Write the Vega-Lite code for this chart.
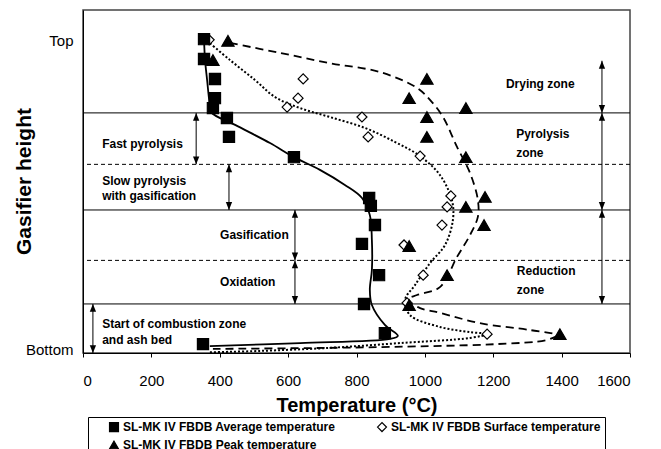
{
  "$schema": "https://vega.github.io/schema/vega-lite/v6.json",
  "autosize": {"type": "none"},
  "width": 547,
  "height": 343,
  "padding": {"left": 83, "top": 10, "right": 31, "bottom": 96},
  "background": "white",
  "config": {
    "font": "Liberation Sans",
    "view": {"stroke": "#444", "strokeWidth": 1.5}
  },
  "datasets": {
    "points": [
      {"series": "SL-MK IV FBDB Surface temperature", "temp": 369, "height": 91.3},
      {"series": "SL-MK IV FBDB Surface temperature", "temp": 644, "height": 79.9},
      {"series": "SL-MK IV FBDB Surface temperature", "temp": 629, "height": 74.3},
      {"series": "SL-MK IV FBDB Surface temperature", "temp": 597, "height": 71.7},
      {"series": "SL-MK IV FBDB Surface temperature", "temp": 816, "height": 68.8},
      {"series": "SL-MK IV FBDB Surface temperature", "temp": 834, "height": 63.0},
      {"series": "SL-MK IV FBDB Surface temperature", "temp": 986, "height": 57.4},
      {"series": "SL-MK IV FBDB Surface temperature", "temp": 1076, "height": 45.8},
      {"series": "SL-MK IV FBDB Surface temperature", "temp": 1065, "height": 42.6},
      {"series": "SL-MK IV FBDB Surface temperature", "temp": 1050, "height": 37.3},
      {"series": "SL-MK IV FBDB Surface temperature", "temp": 939, "height": 31.5},
      {"series": "SL-MK IV FBDB Surface temperature", "temp": 995, "height": 22.7},
      {"series": "SL-MK IV FBDB Surface temperature", "temp": 948, "height": 14.6},
      {"series": "SL-MK IV FBDB Surface temperature", "temp": 1182, "height": 5.5},
      {"series": "SL-MK IV FBDB Peak temperature", "temp": 424, "height": 91.0},
      {"series": "SL-MK IV FBDB Peak temperature", "temp": 380, "height": 85.4},
      {"series": "SL-MK IV FBDB Peak temperature", "temp": 1006, "height": 79.9},
      {"series": "SL-MK IV FBDB Peak temperature", "temp": 954, "height": 74.3},
      {"series": "SL-MK IV FBDB Peak temperature", "temp": 1120, "height": 71.4},
      {"series": "SL-MK IV FBDB Peak temperature", "temp": 1006, "height": 68.8},
      {"series": "SL-MK IV FBDB Peak temperature", "temp": 1006, "height": 63.0},
      {"series": "SL-MK IV FBDB Peak temperature", "temp": 1120, "height": 57.1},
      {"series": "SL-MK IV FBDB Peak temperature", "temp": 1176, "height": 45.5},
      {"series": "SL-MK IV FBDB Peak temperature", "temp": 1120, "height": 42.6},
      {"series": "SL-MK IV FBDB Peak temperature", "temp": 1173, "height": 37.3},
      {"series": "SL-MK IV FBDB Peak temperature", "temp": 954, "height": 31.2},
      {"series": "SL-MK IV FBDB Peak temperature", "temp": 1065, "height": 22.7},
      {"series": "SL-MK IV FBDB Peak temperature", "temp": 954, "height": 14.0},
      {"series": "SL-MK IV FBDB Peak temperature", "temp": 1395, "height": 5.5},
      {"series": "SL-MK IV FBDB Average temperature", "temp": 354, "height": 91.5},
      {"series": "SL-MK IV FBDB Average temperature", "temp": 354, "height": 85.7},
      {"series": "SL-MK IV FBDB Average temperature", "temp": 386, "height": 79.9},
      {"series": "SL-MK IV FBDB Average temperature", "temp": 386, "height": 74.3},
      {"series": "SL-MK IV FBDB Average temperature", "temp": 380, "height": 71.4},
      {"series": "SL-MK IV FBDB Average temperature", "temp": 421, "height": 68.5},
      {"series": "SL-MK IV FBDB Average temperature", "temp": 427, "height": 63.0},
      {"series": "SL-MK IV FBDB Average temperature", "temp": 617, "height": 57.1},
      {"series": "SL-MK IV FBDB Average temperature", "temp": 837, "height": 45.2},
      {"series": "SL-MK IV FBDB Average temperature", "temp": 842, "height": 42.9},
      {"series": "SL-MK IV FBDB Average temperature", "temp": 854, "height": 37.3},
      {"series": "SL-MK IV FBDB Average temperature", "temp": 816, "height": 31.8},
      {"series": "SL-MK IV FBDB Average temperature", "temp": 866, "height": 22.7},
      {"series": "SL-MK IV FBDB Average temperature", "temp": 822, "height": 14.3},
      {"series": "SL-MK IV FBDB Average temperature", "temp": 883, "height": 5.8},
      {"series": "SL-MK IV FBDB Average temperature", "temp": 351, "height": 2.6}
    ],
    "avgCurve": [
      {"i": 1, "temp": 354, "height": 91.3},
      {"i": 2, "temp": 357, "height": 85.4},
      {"i": 3, "temp": 363, "height": 79.6},
      {"i": 4, "temp": 369, "height": 73.8},
      {"i": 5, "temp": 374, "height": 70.3},
      {"i": 6, "temp": 445, "height": 66.5},
      {"i": 7, "temp": 547, "height": 61.2},
      {"i": 8, "temp": 617, "height": 57.1},
      {"i": 9, "temp": 693, "height": 53.4},
      {"i": 10, "temp": 766, "height": 49.0},
      {"i": 11, "temp": 816, "height": 45.2},
      {"i": 12, "temp": 839, "height": 40.2},
      {"i": 13, "temp": 845, "height": 32.9},
      {"i": 14, "temp": 845, "height": 24.2},
      {"i": 15, "temp": 839, "height": 18.4},
      {"i": 16, "temp": 845, "height": 14.0},
      {"i": 17, "temp": 883, "height": 8.2},
      {"i": 18, "temp": 921, "height": 5.0},
      {"i": 19, "temp": 898, "height": 4.1},
      {"i": 20, "temp": 635, "height": 2.9},
      {"i": 21, "temp": 371, "height": 2.0}
    ],
    "surfCurve": [
      {"i": 1, "temp": 363, "height": 91.0},
      {"i": 2, "temp": 430, "height": 85.4},
      {"i": 3, "temp": 503, "height": 79.6},
      {"i": 4, "temp": 562, "height": 74.6},
      {"i": 5, "temp": 635, "height": 71.4},
      {"i": 6, "temp": 722, "height": 68.8},
      {"i": 7, "temp": 825, "height": 65.6},
      {"i": 8, "temp": 913, "height": 61.5},
      {"i": 9, "temp": 986, "height": 57.4},
      {"i": 10, "temp": 1044, "height": 51.9},
      {"i": 11, "temp": 1079, "height": 44.6},
      {"i": 12, "temp": 1082, "height": 38.8},
      {"i": 13, "temp": 1059, "height": 31.5},
      {"i": 14, "temp": 1015, "height": 26.2},
      {"i": 15, "temp": 971, "height": 19.8},
      {"i": 16, "temp": 942, "height": 15.5},
      {"i": 17, "temp": 956, "height": 11.1},
      {"i": 18, "temp": 1044, "height": 7.6},
      {"i": 19, "temp": 1132, "height": 6.1},
      {"i": 20, "temp": 1182, "height": 5.5},
      {"i": 21, "temp": 1132, "height": 4.4},
      {"i": 22, "temp": 927, "height": 2.9},
      {"i": 23, "temp": 722, "height": 1.5},
      {"i": 24, "temp": 518, "height": 0.6},
      {"i": 25, "temp": 371, "height": 0.2}
    ],
    "peakCurve": [
      {"i": 1, "temp": 430, "height": 90.4},
      {"i": 2, "temp": 576, "height": 87.5},
      {"i": 3, "temp": 722, "height": 84.5},
      {"i": 4, "temp": 869, "height": 81.9},
      {"i": 5, "temp": 977, "height": 77.3},
      {"i": 6, "temp": 1015, "height": 73.8},
      {"i": 7, "temp": 1053, "height": 68.8},
      {"i": 8, "temp": 1094, "height": 60.1},
      {"i": 9, "temp": 1132, "height": 52.5},
      {"i": 10, "temp": 1155, "height": 44.6},
      {"i": 11, "temp": 1155, "height": 39.7},
      {"i": 12, "temp": 1132, "height": 34.4},
      {"i": 13, "temp": 1094, "height": 28.0},
      {"i": 14, "temp": 1044, "height": 19.2},
      {"i": 15, "temp": 977, "height": 16.9},
      {"i": 16, "temp": 948, "height": 15.5},
      {"i": 17, "temp": 986, "height": 13.1},
      {"i": 18, "temp": 1044, "height": 11.7},
      {"i": 19, "temp": 1161, "height": 8.7},
      {"i": 20, "temp": 1307, "height": 6.7},
      {"i": 21, "temp": 1386, "height": 5.2},
      {"i": 22, "temp": 1357, "height": 3.8},
      {"i": 23, "temp": 1211, "height": 2.6},
      {"i": 24, "temp": 1015, "height": 2.0},
      {"i": 25, "temp": 722, "height": 1.5},
      {"i": 26, "temp": 380, "height": 1.2}
    ],
    "solidLines": [
      {"height": 70},
      {"height": 41.7},
      {"height": 14.3}
    ],
    "dashedLines": [
      {"height": 55},
      {"height": 27}
    ],
    "arrows": [
      {"temp": 1518, "height": 85.2, "height2": 70},
      {"temp": 1518, "height": 70, "height2": 41.7},
      {"temp": 1518, "height": 41.7, "height2": 14.3},
      {"temp": 331, "height": 70, "height2": 55},
      {"temp": 427, "height": 55, "height2": 41.7},
      {"temp": 620, "height": 41.7, "height2": 27},
      {"temp": 620, "height": 27, "height2": 14.3},
      {"temp": 29, "height": 14.3, "height2": 0}
    ],
    "labels": [
      {"temp": 1237, "height": 78.4, "label": "Drying zone"},
      {"temp": 1267, "height": 63.8, "label": "Pyrolysis"},
      {"temp": 1267, "height": 58.3, "label": "zone"},
      {"temp": 1269, "height": 23.9, "label": "Reduction"},
      {"temp": 1269, "height": 18.4, "label": "zone"},
      {"temp": 56, "height": 60.9, "label": "Fast pyrolysis"},
      {"temp": 56, "height": 50.1, "label": "Slow pyrolysis"},
      {"temp": 56, "height": 45.8, "label": "with gasification"},
      {"temp": 401, "height": 34.4, "label": "Gasification"},
      {"temp": 401, "height": 20.7, "label": "Oxidation"},
      {"temp": 56, "height": 8.5, "label": "Start of combustion zone"},
      {"temp": 56, "height": 3.8, "label": "and ash bed"}
    ]
  },
  "layer": [
    {
      "data": {"name": "solidLines"},
      "mark": {"type": "rule", "color": "black", "strokeWidth": 1},
      "encoding": {"y": {"field": "height", "type": "quantitative", "title": "Gasifier height"}}
    },
    {
      "data": {"name": "dashedLines"},
      "mark": {"type": "rule", "color": "black", "strokeWidth": 1, "strokeDash": [4, 3]},
      "encoding": {"y": {"field": "height", "type": "quantitative", "title": "Gasifier height"}}
    },
    {
      "data": {"name": "peakCurve"},
      "mark": {"type": "line", "color": "black", "strokeWidth": 1.8, "strokeDash": [8, 5], "interpolate": "catmull-rom"},
      "encoding": {
        "x": {"field": "temp", "type": "quantitative", "title": "Temperature (°C)"},
        "y": {"field": "height", "type": "quantitative", "title": "Gasifier height"},
        "order": {"field": "i", "type": "quantitative"}
      }
    },
    {
      "data": {"name": "surfCurve"},
      "mark": {"type": "line", "color": "black", "strokeWidth": 2, "strokeDash": [2, 2], "interpolate": "catmull-rom"},
      "encoding": {
        "x": {"field": "temp", "type": "quantitative", "title": "Temperature (°C)"},
        "y": {"field": "height", "type": "quantitative", "title": "Gasifier height"},
        "order": {"field": "i", "type": "quantitative"}
      }
    },
    {
      "data": {"name": "avgCurve"},
      "mark": {"type": "line", "color": "black", "strokeWidth": 1.8, "interpolate": "catmull-rom"},
      "encoding": {
        "x": {"field": "temp", "type": "quantitative", "title": "Temperature (°C)"},
        "y": {"field": "height", "type": "quantitative", "title": "Gasifier height"},
        "order": {"field": "i", "type": "quantitative"}
      }
    },
    {
      "data": {"name": "arrows"},
      "mark": {"type": "rule", "color": "black", "strokeWidth": 1},
      "encoding": {
        "x": {"field": "temp", "type": "quantitative", "title": "Temperature (°C)"},
        "y": {"field": "height", "type": "quantitative", "title": "Gasifier height"},
        "y2": {"field": "height2"}
      }
    },
    {
      "data": {"name": "arrows"},
      "mark": {"type": "point", "shape": "M0,0L-0.6,1.5L0.6,1.5Z", "filled": true, "color": "black", "size": 110, "opacity": 1},
      "encoding": {
        "x": {"field": "temp", "type": "quantitative", "title": "Temperature (°C)"},
        "y": {"field": "height", "type": "quantitative", "title": "Gasifier height"}
      }
    },
    {
      "data": {"name": "arrows"},
      "mark": {"type": "point", "shape": "M0,0L-0.6,-1.5L0.6,-1.5Z", "filled": true, "color": "black", "size": 110, "opacity": 1},
      "encoding": {
        "x": {"field": "temp", "type": "quantitative", "title": "Temperature (°C)"},
        "y": {"field": "height2", "type": "quantitative", "title": "Gasifier height"}
      }
    },
    {
      "data": {"name": "labels"},
      "mark": {"type": "text", "align": "left", "baseline": "middle", "fontSize": 12, "fontWeight": "bold", "color": "black"},
      "encoding": {
        "x": {"field": "temp", "type": "quantitative", "title": "Temperature (°C)"},
        "y": {"field": "height", "type": "quantitative", "title": "Gasifier height"},
        "text": {"field": "label"}
      }
    },
    {
      "data": {"name": "points"},
      "mark": {"type": "point", "filled": true, "strokeWidth": 1.2, "opacity": 1},
      "encoding": {
        "x": {
          "field": "temp", "type": "quantitative", "title": "Temperature (°C)",
          "scale": {"domain": [0, 1600], "nice": false},
          "axis": {
            "values": [0, 200, 400, 600, 800, 1000, 1200, 1400, 1600],
            "format": "d",
            "grid": false,
            "labelFontSize": 15, "labelColor": "black", "labelPadding": 16,
            "tickSize": 4, "tickColor": "black", "domainColor": "black", "domainWidth": 1,
            "titleFontSize": 20, "titleFontWeight": "bold", "titleColor": "black",
            "titleY": 58, "titleBaseline": "alphabetic"
          }
        },
        "y": {
          "field": "height", "type": "quantitative", "title": "Gasifier height",
          "scale": {"domain": [0, 100], "nice": false},
          "axis": {
            "values": [0.9, 91],
            "labelExpr": "datum.value > 50 ? 'Top' : 'Bottom'",
            "grid": false, "ticks": false, "tickSize": 0,
            "labelFontSize": 15, "labelColor": "black", "labelPadding": 10,
            "domainColor": "black", "domainWidth": 1,
            "titleFontSize": 21, "titleFontWeight": "bold", "titleColor": "black",
            "titleX": -53, "titleY": 171, "titleAngle": -90, "titleBaseline": "alphabetic", "titleAlign": "center"
          }
        },
        "shape": {
          "field": "series", "type": "nominal",
          "scale": {
            "domain": ["SL-MK IV FBDB Average temperature", "SL-MK IV FBDB Surface temperature", "SL-MK IV FBDB Peak temperature"],
            "range": ["square", "diamond", "triangle-up"]
          },
          "legend": {
            "title": null, "orient": "none", "legendX": 5, "legendY": 407,
            "direction": "horizontal", "columns": 2, "columnPadding": 24, "rowPadding": 4,
            "strokeColor": "black", "padding": 4, "symbolOffset": 16, "labelLimit": 400,
            "labelExpr": "indexof(datum.label, 'Surface') >= 0 ? datum.label + '\u00a0\u00a0\u00a0\u00a0\u00a0\u00a0' : datum.label",
            "labelFont": "Liberation Sans", "labelFontSize": 12, "labelFontWeight": "bold", "labelColor": "black",
            "labelOffset": 3, "symbolSize": 80, "symbolStrokeWidth": 1.2
          }
        },
        "fill": {
          "field": "series", "type": "nominal",
          "scale": {
            "domain": ["SL-MK IV FBDB Average temperature", "SL-MK IV FBDB Surface temperature", "SL-MK IV FBDB Peak temperature"],
            "range": ["black", "white", "black"]
          },
          "legend": {
            "title": null, "orient": "none", "legendX": 5, "legendY": 407,
            "direction": "horizontal", "columns": 2, "columnPadding": 24, "rowPadding": 4,
            "strokeColor": "black", "padding": 4, "symbolOffset": 16, "labelLimit": 400,
            "labelExpr": "indexof(datum.label, 'Surface') >= 0 ? datum.label + '\u00a0\u00a0\u00a0\u00a0\u00a0\u00a0' : datum.label",
            "labelFont": "Liberation Sans", "labelFontSize": 12, "labelFontWeight": "bold", "labelColor": "black",
            "labelOffset": 3, "symbolSize": 80, "symbolStrokeWidth": 1.2
          }
        },
        "stroke": {
          "field": "series", "type": "nominal",
          "scale": {
            "domain": ["SL-MK IV FBDB Average temperature", "SL-MK IV FBDB Surface temperature", "SL-MK IV FBDB Peak temperature"],
            "range": ["black", "black", "black"]
          },
          "legend": {
            "title": null, "orient": "none", "legendX": 5, "legendY": 407,
            "direction": "horizontal", "columns": 2, "columnPadding": 24, "rowPadding": 4,
            "strokeColor": "black", "padding": 4, "symbolOffset": 16, "labelLimit": 400,
            "labelExpr": "indexof(datum.label, 'Surface') >= 0 ? datum.label + '\u00a0\u00a0\u00a0\u00a0\u00a0\u00a0' : datum.label",
            "labelFont": "Liberation Sans", "labelFontSize": 12, "labelFontWeight": "bold", "labelColor": "black",
            "labelOffset": 3, "symbolSize": 80, "symbolStrokeWidth": 1.2
          }
        },
        "size": {
          "field": "series", "type": "nominal",
          "scale": {
            "domain": ["SL-MK IV FBDB Surface temperature", "SL-MK IV FBDB Average temperature", "SL-MK IV FBDB Peak temperature"],
            "range": [100, 150, 170]
          },
          "legend": null
        }
      }
    }
  ]
}
